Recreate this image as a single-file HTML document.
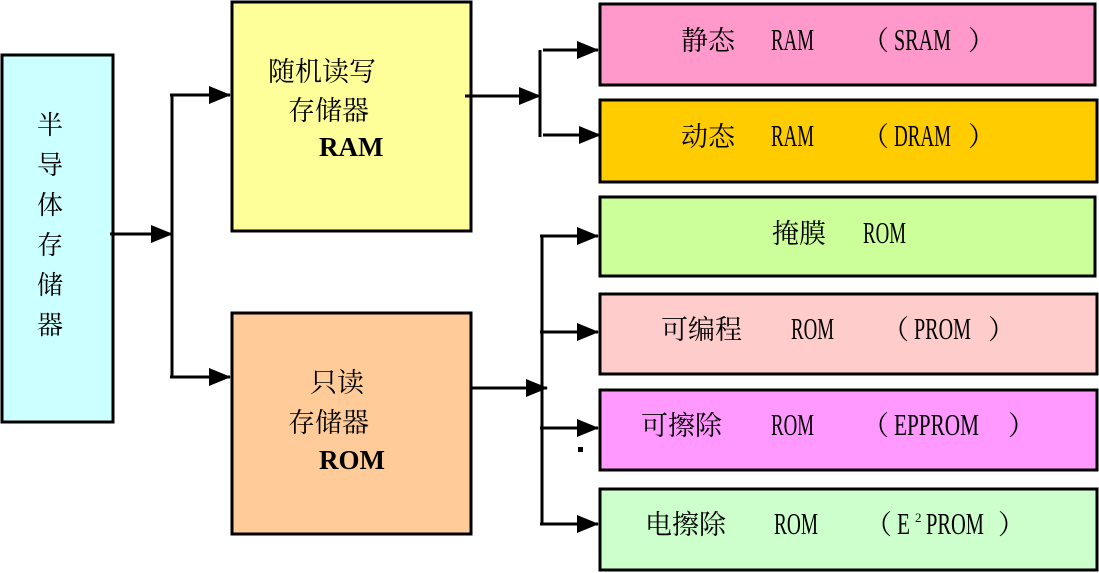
<!DOCTYPE html>
<html><head><meta charset="utf-8"><style>
html,body{margin:0;padding:0;background:#fff;}
svg{display:block;}
text{font-family:"Liberation Serif","Noto Serif CJK SC",serif;font-size:24px;fill:#000;}
.b{font-weight:bold;}
.c{font-size:27px;}
.l{font-size:26px;}
text.n{font-size:31px;}
text.s{font-size:13px;}
</style></head><body>
<svg width="1099" height="573" viewBox="0 0 1099 573" xmlns="http://www.w3.org/2000/svg">
<defs><marker id="a" markerWidth="22" markerHeight="18" refX="21" refY="9" orient="auto" markerUnits="userSpaceOnUse"><path d="M0,0 L22,9 L0,18 Z" fill="#000"/></marker></defs>
<g stroke="#000" stroke-width="3">
<rect x="2" y="55" width="111" height="367" fill="#ccffff"/>
<rect x="232" y="2" width="239" height="229" fill="#ffff99"/>
<rect x="232" y="313" width="239" height="221" fill="#ffcc99"/>
<rect x="600" y="4" width="495" height="81" fill="#ff99cc"/>
<rect x="600" y="100" width="497" height="82" fill="#ffcc00"/>
<rect x="600" y="197" width="495" height="79" fill="#ccff99"/>
<rect x="600" y="294" width="497" height="80" fill="#ffcccc"/>
<rect x="600" y="390" width="497" height="80" fill="#ff99ff"/>
<rect x="600" y="489" width="497" height="81" fill="#ccffcc"/>
<g fill="none">
<line x1="110" y1="234" x2="172" y2="234" marker-end="url(#a)"/>
<line x1="172" y1="95" x2="172" y2="377"/>
<line x1="170" y1="95" x2="230" y2="95" marker-end="url(#a)"/>
<line x1="170" y1="377" x2="230" y2="377" marker-end="url(#a)"/>
<line x1="465" y1="96" x2="540" y2="96" marker-end="url(#a)"/>
<line x1="540" y1="50" x2="540" y2="137"/>
<line x1="543" y1="50" x2="598" y2="50" marker-end="url(#a)"/>
<line x1="543" y1="135" x2="600" y2="135" marker-end="url(#a)"/>
<line x1="471" y1="388" x2="547" y2="388" marker-end="url(#a)"/>
<line x1="542" y1="235" x2="542" y2="525"/>
<line x1="540" y1="236" x2="598" y2="236" marker-end="url(#a)"/>
<line x1="540" y1="332" x2="598" y2="332" marker-end="url(#a)"/>
<line x1="540" y1="428" x2="598" y2="428" marker-end="url(#a)"/>
<line x1="540" y1="524" x2="598" y2="524" marker-end="url(#a)"/>
</g></g>
<rect x="578" y="447" width="5" height="5" fill="#000"/>
<g text-anchor="middle">
<text x="50" y="134" class="l">半</text><text x="50" y="174" class="l">导</text><text x="50" y="214" class="l">体</text>
<text x="50" y="254" class="l">存</text><text x="50" y="294" class="l">储</text><text x="50" y="334" class="l">器</text>
</g>
<text x="268" y="81" class="c">随机读写</text>
<text x="288" y="120" class="c">存储器</text>
<text x="319" y="156" class="b c">RAM</text>
<text x="310" y="392" class="c">只读</text>
<text x="288" y="432" class="c">存储器</text>
<text x="319" y="469" class="b c">ROM</text>

<text x="681" y="50" class="c">静态</text>
<text x="771" y="50" class="n" textLength="43" lengthAdjust="spacingAndGlyphs">RAM</text>
<text x="862" y="50" class="c">（</text>
<text x="894" y="50" class="n" textLength="57" lengthAdjust="spacingAndGlyphs">SRAM</text>
<text x="968" y="50" class="c">）</text>

<text x="681" y="146" class="c">动态</text>
<text x="771" y="146" class="n" textLength="43" lengthAdjust="spacingAndGlyphs">RAM</text>
<text x="862" y="146" class="c">（</text>
<text x="894" y="146" class="n" textLength="57" lengthAdjust="spacingAndGlyphs">DRAM</text>
<text x="968" y="146" class="c">）</text>

<text x="772" y="243" class="c">掩膜</text>
<text x="863" y="243" class="n" textLength="43" lengthAdjust="spacingAndGlyphs">ROM</text>

<text x="661" y="339" class="c">可编程</text>
<text x="791" y="339" class="n" textLength="43" lengthAdjust="spacingAndGlyphs">ROM</text>
<text x="882" y="339" class="c">（</text>
<text x="914" y="339" class="n" textLength="57" lengthAdjust="spacingAndGlyphs">PROM</text>
<text x="988" y="339" class="c">）</text>

<text x="641" y="435" class="c">可擦除</text>
<text x="771" y="435" class="n" textLength="43" lengthAdjust="spacingAndGlyphs">ROM</text>
<text x="862" y="435" class="c">（</text>
<text x="894" y="435" class="n" textLength="85" lengthAdjust="spacingAndGlyphs">EPPROM</text>
<text x="1008" y="435" class="c">）</text>

<text x="645" y="534" class="c">电擦除</text>
<text x="774" y="534" class="n" textLength="44" lengthAdjust="spacingAndGlyphs">ROM</text>
<text x="865" y="534" class="c">（</text>
<text x="897" y="534" class="n" textLength="13" lengthAdjust="spacingAndGlyphs">E</text>
<text x="915" y="522" class="s">2</text>
<text x="926" y="534" class="n" textLength="58" lengthAdjust="spacingAndGlyphs">PROM</text>
<text x="998" y="534" class="c">）</text>
</svg>
</body></html>
